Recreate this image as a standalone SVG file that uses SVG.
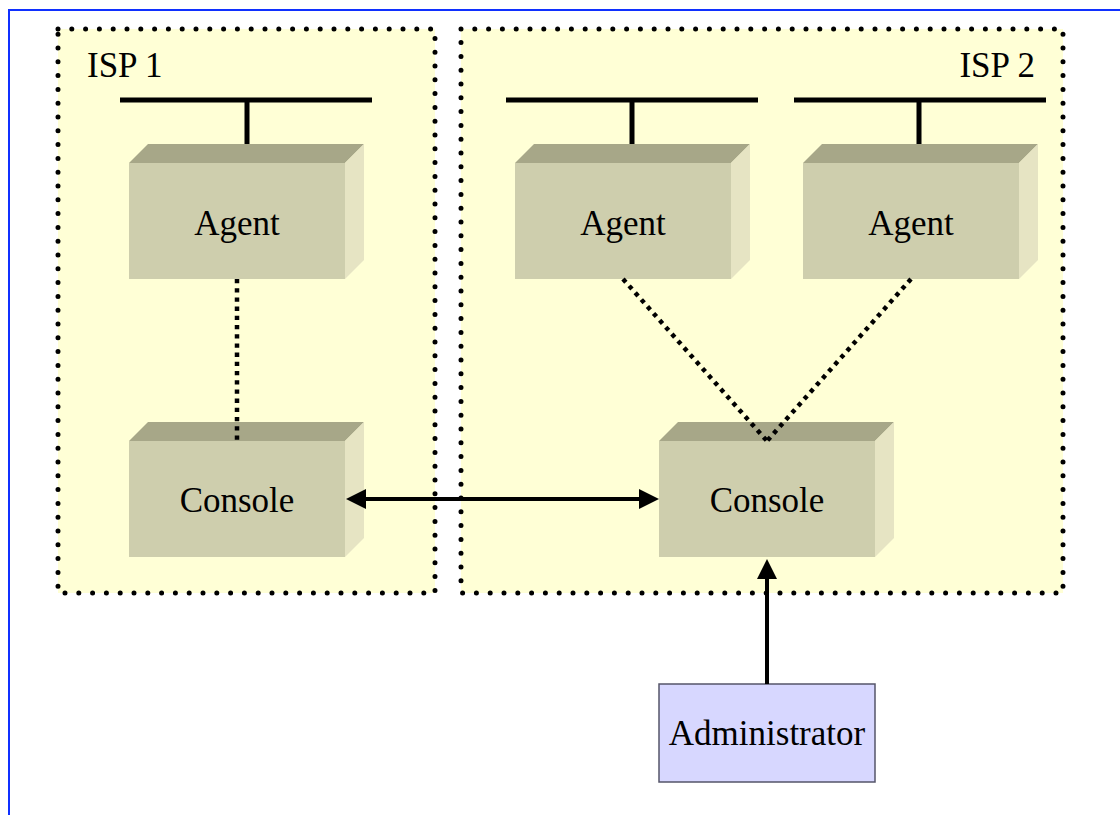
<svg xmlns="http://www.w3.org/2000/svg" width="1120" height="815" viewBox="0 0 1120 815">
  <style>
    .frame { stroke: #1030ff; stroke-width: 2; fill: none; }
    .zone { fill: #ffffd6; stroke: #000; stroke-width: 5; stroke-linecap: round; stroke-dasharray: 0 13.8; }
    .bus { stroke: #000; stroke-width: 5; fill: none; }
    .front { fill: #cecead; }
    .top { fill: #a7a788; }
    .side { fill: #e6e4c3; }
    .lbl { font-family: "Liberation Serif", "Times New Roman", serif; font-size: 35px; fill: #000; }
    .dot { stroke: #000; stroke-width: 4.5; stroke-dasharray: 4.3 4.9; fill: none; }
    .arrow { stroke: #000; stroke-width: 4; fill: none; }
    .admin { fill: #d7d7ff; stroke: #55556a; stroke-width: 1.5; }
  </style>
  <defs>
    <!-- 3D block: 216 x 116 front face, 19px depth -->
    <g id="block">
      <rect class="front" x="0" y="0" width="216" height="116"/>
      <polygon class="top" points="0,0 19,-19 235,-19 216,0"/>
      <polygon class="side" points="216,0 235,-19 235,97 216,116"/>
    </g>
    <marker id="head" markerUnits="userSpaceOnUse" markerWidth="22" markerHeight="22" viewBox="0 -11 22 22" refX="0" refY="0" orient="auto-start-reverse">
      <path d="M0,-10 L20,0 L0,10 z" fill="#000"/>
    </marker>
  </defs>

  <rect width="1120" height="815" fill="#fff"/>

  <!-- outer frame (top and left edges) -->
  <path class="frame" d="M9,815 V10 H1120"/>

  <!-- provider zones -->
  <g id="isp1">
    <rect class="zone" x="58" y="29" width="377" height="564"/>
    <text class="lbl" x="87" y="77">ISP 1</text>
  </g>
  <g id="isp2">
    <rect class="zone" x="461" y="29" width="602" height="564"/>
    <text class="lbl" x="1035" y="77" text-anchor="end">ISP 2</text>
  </g>

  <!-- network segments -->
  <g id="buses">
    <path class="bus" d="M120,100 H372 M247,100 V154"/>
    <path class="bus" d="M506,100 H758 M632,100 V154"/>
    <path class="bus" d="M794,100 H1046 M919,100 V154"/>
  </g>

  <g id="agent1">
    <use href="#block" x="129" y="163"/>
    <text class="lbl" x="237" y="235" text-anchor="middle">Agent</text>
  </g>
  <g id="agent2">
    <use href="#block" x="515" y="163"/>
    <text class="lbl" x="623" y="235" text-anchor="middle">Agent</text>
  </g>
  <g id="agent3">
    <use href="#block" x="803" y="163"/>
    <text class="lbl" x="911" y="235" text-anchor="middle">Agent</text>
  </g>
  <g id="console1">
    <use href="#block" x="129" y="441"/>
    <text class="lbl" x="237" y="512" text-anchor="middle">Console</text>
  </g>
  <g id="console2">
    <use href="#block" x="659" y="441"/>
    <text class="lbl" x="767" y="512" text-anchor="middle">Console</text>
  </g>
  <g id="admin">
    <rect class="admin" x="659" y="684" width="216" height="98"/>
    <text class="lbl" x="767" y="745" text-anchor="middle">Administrator</text>
  </g>

  <!-- connectors -->
  <g id="connectors">
    <line class="dot" x1="237" y1="279" x2="237" y2="441"/>
    <line class="dot" x1="623" y1="279" x2="767" y2="441"/>
    <line class="dot" x1="911" y1="279" x2="767" y2="441"/>
    <line class="arrow" x1="366" y1="499" x2="639" y2="499" marker-start="url(#head)" marker-end="url(#head)"/>
    <line class="arrow" x1="767" y1="684" x2="767" y2="579" marker-end="url(#head)"/>
  </g>
</svg>
